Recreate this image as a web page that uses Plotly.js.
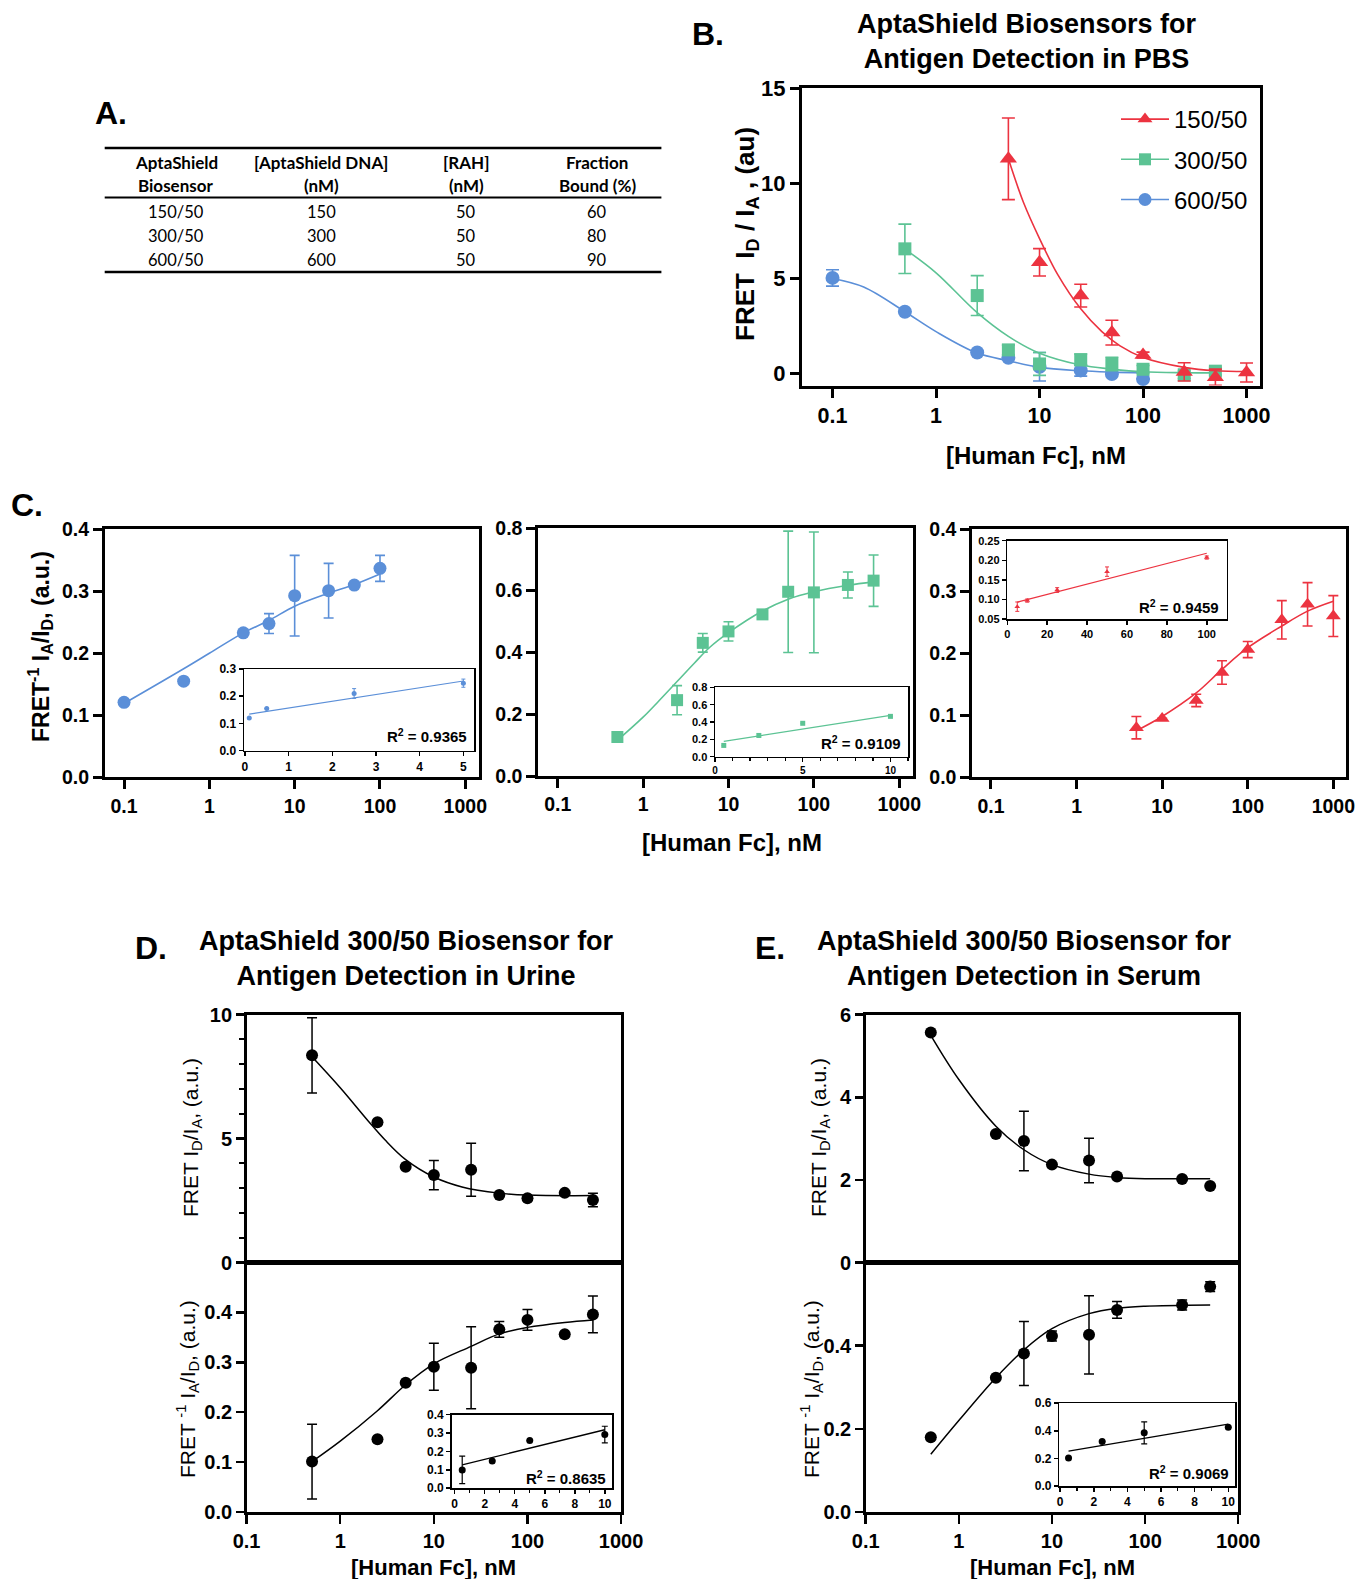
<!DOCTYPE html>
<html><head><meta charset="utf-8">
<script src="https://cdn.plot.ly/plotly-3.0.1.min.js"></script>
<style>html,body{margin:0;padding:0;background:#fff}</style>
</head><body><div id="chart" style="width:1357px;height:1579px"></div>
<script>
// ================= DATA =================
// ---- Panel A table ----
const tableHeadLine1 = ['AptaShield', '[AptaShield DNA]', '[RAH]', 'Fraction'];
const tableHeadLine2 = ['Biosensor', '(nM)', '(nM)', 'Bound (%)'];
const biosensorNames = ['150/50', '300/50', '600/50'];
const aptaShieldDNA = [150, 300, 600];
const rahConc = [50, 50, 50];
const fractionBound = [60, 80, 90];

// ---- Panel B: FRET ID/IA in PBS ----
const seriesNames = ['150/50', '300/50', '600/50'];
const pbsX150 = [5, 10, 25, 50, 100, 250, 500, 1000];
const pbsY150 = [11.3, 5.85, 4.1, 2.15, 0.97, 0.08, -0.2, 0.05];
const pbsErr150 = [2.15, 0.72, 0.6, 0.65, 0.15, 0.48, 0.43, 0.5];
const pbsFitX150 = [5, 7, 10, 15, 25, 40, 60, 100, 250, 500, 1000];
const pbsFitY150 = [11.3, 9.0, 7.1, 5.2, 3.4, 2.2, 1.45, 0.84, 0.32, 0.14, 0.1];

const pbsX300 = [0.5, 2.5, 5, 10, 25, 50, 100, 250, 500];
const pbsY300 = [6.56, 4.1, 1.24, 0.5, 0.72, 0.5, 0.22, -0.07, 0.12];
const pbsErr300 = [1.3, 1.05, 0.25, 0.6, 0.3, 0.35, 0.2, 0.2, 0.2];
const pbsFitX300 = [0.5, 1, 2.5, 5, 10, 25, 50, 100, 250, 500];
const pbsFitY300 = [6.55, 5.3, 3.2, 1.95, 1.06, 0.44, 0.23, 0.09, 0.04, 0.03];

const pbsX600 = [0.1, 0.5, 2.5, 5, 10, 25, 50, 100];
const pbsY600 = [5.03, 3.25, 1.1, 0.82, 0.35, 0.16, -0.03, -0.29];
const pbsErr600 = [0.43, 0, 0, 0, 0.75, 0.3, 0, 0];
const pbsFitX600 = [0.1, 0.2, 0.5, 1, 2.5, 5, 10, 25, 50, 100];
const pbsFitY600 = [5.0, 4.55, 3.25, 2.2, 1.07, 0.67, 0.32, 0.14, 0.07, 0.03];

// ---- Panel C: FRET^-1 IA/ID ----
const c600X = [0.1, 0.5, 2.5, 5, 10, 25, 50, 100];
const c600Y = [0.121, 0.155, 0.233, 0.248, 0.293, 0.301, 0.31, 0.337];
const c600Err = [0, 0, 0, 0.016, 0.065, 0.044, 0, 0.021];
const c600FitX = [0.1, 0.5, 1, 2.5, 5, 10, 25, 50, 100];
const c600FitY = [0.119, 0.175, 0.2, 0.233, 0.253, 0.276, 0.297, 0.311, 0.328];
const c600InsX = [0.1, 0.5, 2.5, 5];
const c600InsY = [0.12, 0.155, 0.21, 0.248];
const c600InsErr = [0, 0, 0.018, 0.015];
const c600InsFitX = [0.1, 5];
const c600InsFitY = [0.134, 0.256];

const c300X = [0.5, 2.5, 5, 10, 25, 50, 100, 250, 500];
const c300Y = [0.126, 0.245, 0.43, 0.467, 0.522, 0.595, 0.593, 0.617, 0.631];
const c300Err = [0.012, 0.047, 0.03, 0.031, 0, 0.196, 0.195, 0.042, 0.083];
const c300FitX = [0.5, 1, 1.5, 2.5, 4, 6, 10, 25, 50, 100, 250, 500];
const c300FitY = [0.115, 0.19, 0.24, 0.305, 0.365, 0.415, 0.463, 0.533, 0.571, 0.595, 0.616, 0.627];
const c300InsX = [0.5, 2.5, 5, 10];
const c300InsY = [0.13, 0.245, 0.385, 0.465];
const c300InsErr = [0, 0.02, 0, 0];
const c300InsFitX = [0.5, 10];
const c300InsFitY = [0.176, 0.476];

const c150X = [5, 10, 25, 50, 100, 250, 500, 1000];
const c150Y = [0.08, 0.095, 0.124, 0.169, 0.206, 0.254, 0.279, 0.26];
const c150Err = [0.018, 0, 0.01, 0.019, 0.013, 0.031, 0.035, 0.033];
const c150FitX = [5, 10, 25, 50, 100, 250, 500, 1000];
const c150FitY = [0.075, 0.098, 0.136, 0.174, 0.209, 0.244, 0.268, 0.284];
const c150InsX = [5, 10, 25, 50, 100];
const c150InsY = [0.0815, 0.097, 0.124, 0.171, 0.207];
const c150InsErr = [0.012, 0.004, 0.006, 0.012, 0.004];
const c150InsFitX = [5, 100];
const c150InsFitY = [0.093, 0.218];

// ---- Panel D: urine ----
const urineX = [0.5, 2.5, 5, 10, 25, 50, 100, 250, 500];
const urineFretY = [8.36, 5.66, 3.86, 3.53, 3.74, 2.72, 2.59, 2.81, 2.52];
const urineFretErr = [1.52, 0, 0, 0.59, 1.07, 0, 0, 0, 0.27];
const urineFretFitX = [0.5, 1, 2, 3, 5, 10, 20, 50, 100, 500];
const urineFretFitY = [8.3, 7.05, 5.7, 4.95, 4.15, 3.45, 3.05, 2.8, 2.72, 2.7];
const urineInvY = [0.101, 0.146, 0.259, 0.291, 0.289, 0.366, 0.385, 0.356, 0.396];
const urineInvErr = [0.075, 0, 0, 0.047, 0.082, 0.016, 0.021, 0, 0.037];
const urineInvFitX = [0.5, 1, 2.5, 5, 10, 25, 50, 100, 250, 500];
const urineInvFitY = [0.101, 0.142, 0.203, 0.255, 0.297, 0.332, 0.357, 0.37, 0.38, 0.385];
const urineInsX = [0.5, 2.5, 5, 10];
const urineInsY = [0.099, 0.148, 0.259, 0.292];
const urineInsErr = [0.075, 0, 0, 0.045];
const urineInsFitX = [0.5, 10];
const urineInsFitY = [0.127, 0.318];

// ---- Panel E: serum ----
const serumX = [0.5, 2.5, 5, 10, 25, 50, 250, 500];
const serumFretY = [5.57, 3.11, 2.94, 2.37, 2.47, 2.08, 2.02, 1.85];
const serumFretErr = [0, 0, 0.72, 0, 0.54, 0, 0, 0];
const serumFretFitX = [0.5, 1, 2.5, 5, 10, 25, 50, 100, 500];
const serumFretFitY = [5.5, 4.43, 3.3, 2.73, 2.37, 2.14, 2.06, 2.03, 2.03];
const serumInvY = [0.18, 0.323, 0.381, 0.423, 0.426, 0.486, 0.498, 0.542];
const serumInvErr = [0, 0, 0.077, 0.012, 0.094, 0.02, 0.012, 0.012];
const serumInvFitX = [0.5, 1, 2.5, 5, 10, 25, 50, 100, 500];
const serumInvFitY = [0.139, 0.22, 0.323, 0.39, 0.441, 0.477, 0.49, 0.495, 0.498];
const serumInsX = [0.5, 2.5, 5, 10];
const serumInsY = [0.202, 0.322, 0.385, 0.426];
const serumInsErr = [0, 0, 0.08, 0];
const serumInsFitX = [0.5, 10];
const serumInsFitY = [0.253, 0.448];

// Tick labels
const logTickVals = [0.1, 1, 10, 100, 1000];
const logTickText = ['0.1', '1', '10', '100', '1000'];
const r2Values = ['0.9365', '0.9109', '0.9459', '0.8635', '0.9069'];

// ================= STYLE / LAYOUT =================
const W = 1357, H = 1579;
const FONT = 'Liberation Sans, Arial, sans-serif';
const TFONT = 'Lato, Open Sans, sans-serif';
const RED = '#EC3340', GREEN = '#5CC394', BLUE = '#5B8FD8', BLACK = '#000';
function xd(l, r) { return [l / W, r / W]; }
function yd(t, b) { return [1 - b / H, 1 - t / H]; }
function px(x) { return x / W; }
function py(y) { return 1 - y / H; }

function ax(o) {
  return Object.assign({
    showline: true, linecolor: BLACK, mirror: true, ticks: 'outside', tickcolor: BLACK,
    showgrid: false, zeroline: false, fixedrange: true, layer: 'above traces'
  }, o);
}
function mainX(dom, range, anchor, lw, fs) {
  return ax({domain: dom, type: 'log', range: range, anchor: anchor, linewidth: lw, tickwidth: lw, ticklen: 9,
    tickmode: 'array', tickvals: logTickVals, ticktext: logTickText,
    tickfont: {family: FONT, size: fs, weight: 700, color: BLACK}});
}
function linY(dom, range, anchor, lw, fs, extra) {
  return ax(Object.assign({domain: dom, range: range, anchor: anchor, linewidth: lw, tickwidth: lw, ticklen: 9,
    tickfont: {family: FONT, size: fs, weight: 700, color: BLACK}}, extra || {}));
}
function insetAx(dom, range, anchor, fs, extra) {
  return ax(Object.assign({domain: dom, range: range, anchor: anchor, linewidth: 1.5, tickwidth: 1.5, ticklen: 4,
    tickfont: {family: FONT, size: fs, weight: 700, color: BLACK}}, extra || {}));
}

function pts(x, y, err, xa, ya, color, symbol, size, capw, thick) {
  return {type: 'scatter', mode: 'markers', x: x, y: y, xaxis: xa, yaxis: ya,
    marker: {color: color, symbol: symbol, size: size, line: {width: 0}},
    error_y: {type: 'data', array: err, visible: true, color: color, thickness: thick, width: capw},
    showlegend: false, cliponaxis: false, hoverinfo: 'x+y'};
}
function fit(x, y, xa, ya, color, w) {
  return {type: 'scatter', mode: 'lines', x: x, y: y, xaxis: xa, yaxis: ya,
    line: {color: color, width: w, shape: 'spline', smoothing: 1}, showlegend: false, hoverinfo: 'skip', cliponaxis: false};
}

const traces = [
  // Panel B
  fit(pbsFitX600, pbsFitY600, 'x', 'y', BLUE, 1.6),
  pts(pbsX600, pbsY600, pbsErr600, 'x', 'y', BLUE, 'circle', 14, 6.5, 1.6),
  fit(pbsFitX300, pbsFitY300, 'x', 'y', GREEN, 1.6),
  pts(pbsX300, pbsY300, pbsErr300, 'x', 'y', GREEN, 'square', 13, 6.5, 1.6),
  fit(pbsFitX150, pbsFitY150, 'x', 'y', RED, 1.6),
  pts(pbsX150, pbsY150, pbsErr150, 'x', 'y', RED, 'triangle-up', 15, 6.5, 1.6),
  // legend entries
  {type: 'scatter', mode: 'lines+markers', x: [null], y: [null], xaxis: 'x', yaxis: 'y', name: seriesNames[0], legendgroup: 'a',
    line: {color: RED, width: 1.6}, marker: {color: RED, symbol: 'triangle-up', size: 13}},
  {type: 'scatter', mode: 'lines+markers', x: [null], y: [null], xaxis: 'x', yaxis: 'y', name: seriesNames[1], legendgroup: 'b',
    line: {color: GREEN, width: 1.6}, marker: {color: GREEN, symbol: 'square', size: 12}},
  {type: 'scatter', mode: 'lines+markers', x: [null], y: [null], xaxis: 'x', yaxis: 'y', name: seriesNames[2], legendgroup: 'c',
    line: {color: BLUE, width: 1.6}, marker: {color: BLUE, symbol: 'circle', size: 13}},
  // Panel C left
  fit(c600FitX, c600FitY, 'x2', 'y2', BLUE, 1.6),
  pts(c600X, c600Y, c600Err, 'x2', 'y2', BLUE, 'circle', 13, 5, 1.6),
  fit(c600InsFitX, c600InsFitY, 'x3', 'y3', BLUE, 1.2),
  pts(c600InsX, c600InsY, c600InsErr, 'x3', 'y3', BLUE, 'circle', 5, 2, 1),
  // Panel C middle
  fit(c300FitX, c300FitY, 'x4', 'y4', GREEN, 1.6),
  pts(c300X, c300Y, c300Err, 'x4', 'y4', GREEN, 'square', 12, 5, 1.6),
  fit(c300InsFitX, c300InsFitY, 'x5', 'y5', GREEN, 1.2),
  pts(c300InsX, c300InsY, c300InsErr, 'x5', 'y5', GREEN, 'square', 5, 2, 1),
  // Panel C right
  fit(c150FitX, c150FitY, 'x6', 'y6', RED, 1.6),
  pts(c150X, c150Y, c150Err, 'x6', 'y6', RED, 'triangle-up', 13, 5, 1.6),
  fit(c150InsFitX, c150InsFitY, 'x7', 'y7', RED, 1.2),
  pts(c150InsX, c150InsY, c150InsErr, 'x7', 'y7', RED, 'triangle-up', 5, 2, 1),
  // Panel D
  fit(urineFretFitX, urineFretFitY, 'x8', 'y8', BLACK, 1.5),
  pts(urineX, urineFretY, urineFretErr, 'x8', 'y8', BLACK, 'circle', 12, 5, 1.5),
  fit(urineInvFitX, urineInvFitY, 'x9', 'y9', BLACK, 1.5),
  pts(urineX, urineInvY, urineInvErr, 'x9', 'y9', BLACK, 'circle', 12, 5, 1.5),
  fit(urineInsFitX, urineInsFitY, 'x10', 'y10', BLACK, 1.3),
  pts(urineInsX, urineInsY, urineInsErr, 'x10', 'y10', BLACK, 'circle', 7, 3, 1.2),
  // Panel E
  fit(serumFretFitX, serumFretFitY, 'x11', 'y11', BLACK, 1.5),
  pts(serumX, serumFretY, serumFretErr, 'x11', 'y11', BLACK, 'circle', 12, 5, 1.5),
  fit(serumInvFitX, serumInvFitY, 'x12', 'y12', BLACK, 1.5),
  pts(serumX, serumInvY, serumInvErr, 'x12', 'y12', BLACK, 'circle', 12, 5, 1.5),
  fit(serumInsFitX, serumInsFitY, 'x13', 'y13', BLACK, 1.3),
  pts(serumInsX, serumInsY, serumInsErr, 'x13', 'y13', BLACK, 'circle', 7, 3, 1.2)
];

const minorX = {tickmode: 'linear', tick0: 0, dtick: 1, ticks: 'outside', ticklen: 3, tickwidth: 1.2, tickcolor: BLACK, showgrid: false};
const layout = {
  width: W, height: H, margin: {l: 0, r: 0, t: 0, b: 0},
  paper_bgcolor: '#fff', plot_bgcolor: 'rgba(0,0,0,0)',
  font: {family: FONT, color: BLACK},
  showlegend: true,
  legend: {x: px(1116), y: py(97), xanchor: 'left', yanchor: 'top', bgcolor: 'rgba(0,0,0,0)',
    font: {family: FONT, size: 24, color: BLACK}, traceorder: 'grouped', tracegroupgap: 6, itemwidth: 48},
  // B
  xaxis: mainX(xd(802, 1260), [-1.295, 3.13], 'y', 3, 21.5),
  yaxis: linY(yd(87.6, 385.6), [-0.64, 15.05], 'x', 3, 22, {tickvals: [0, 5, 10, 15]}),
  // C left
  xaxis2: mainX(xd(105, 479.3), [-1.223, 3.164], 'y2', 3, 19.5),
  yaxis2: linY(yd(529.3, 777.3), [0, 0.4], 'x2', 3, 19.5, {dtick: 0.1, tickformat: '.1f'}),
  xaxis3: insetAx(xd(244, 474.3), [-0.02, 5.25], 'y3', 12, {dtick: 1}),
  yaxis3: insetAx(yd(669, 750.7), [0, 0.3], 'x3', 12, {dtick: 0.1, tickformat: '.1f'}),
  // C middle
  xaxis4: mainX(xd(538.3, 912.7), [-1.227, 3.157], 'y4', 3, 19.5),
  yaxis4: linY(yd(528.3, 776), [0, 0.8], 'x4', 3, 19.5, {dtick: 0.2, tickformat: '.1f'}),
  xaxis5: insetAx(xd(715, 908), [0, 11], 'y5', 10, {tickvals: [0, 5, 10], minor: minorX}),
  yaxis5: insetAx(yd(687.3, 756.7), [0, 0.8], 'x5', 11, {dtick: 0.2, tickformat: '.1f'}),
  // C right
  xaxis6: mainX(xd(972.3, 1346), [-1.218, 3.148], 'y6', 3, 19.5),
  yaxis6: linY(yd(529.3, 777.3), [0, 0.4], 'x6', 3, 19.5, {dtick: 0.1, tickformat: '.1f'}),
  xaxis7: insetAx(xd(1007.3, 1226.7), [0, 110], 'y7', 11, {dtick: 20}),
  yaxis7: insetAx(yd(540.7, 619), [0.05, 0.25], 'x7', 11, {tick0: 0.05, dtick: 0.05, tickformat: '.2f'}),
  // D upper / lower / inset
  xaxis8: ax({domain: xd(246.6, 621.1), type: 'log', range: [-1, 3], anchor: 'y8', linewidth: 2.5, ticks: '', showticklabels: false}),
  yaxis8: linY(yd(1014.7, 1262.5), [0, 10], 'x8', 2.5, 20, {tick0: 0, dtick: 5, ticklen: 8,
    minor: {tickmode: 'linear', tick0: 0, dtick: 1, ticks: 'outside', ticklen: 5, tickwidth: 2, tickcolor: BLACK, showgrid: false}}),
  xaxis9: mainX(xd(246.6, 621.1), [-1, 3], 'y9', 2.5, 20),
  yaxis9: linY(yd(1262.5, 1512), [0, 0.5], 'x9', 2.5, 20, {tickvals: [0, 0.1, 0.2, 0.3, 0.4], tickformat: '.1f', ticklen: 8}),
  xaxis10: insetAx(xd(451.7, 612.3), [-0.2, 10.5], 'y10', 12, {tick0: 0, dtick: 2, minor: minorX}),
  yaxis10: insetAx(yd(1414.7, 1488.1), [0, 0.4], 'x10', 12, {dtick: 0.1, tickformat: '.1f'}),
  // E upper / lower / inset
  xaxis11: ax({domain: xd(865.7, 1238.2), type: 'log', range: [-1, 3], anchor: 'y11', linewidth: 2.5, ticks: '', showticklabels: false}),
  yaxis11: linY(yd(1014.7, 1262.5), [0, 6], 'x11', 2.5, 20, {tick0: 0, dtick: 2, ticklen: 8}),
  xaxis12: mainX(xd(865.7, 1238.2), [-1, 3], 'y12', 2.5, 20),
  yaxis12: linY(yd(1262.5, 1512), [0, 0.6], 'x12', 2.5, 20, {tickvals: [0, 0.2, 0.4], tickformat: '.1f', ticklen: 8}),
  xaxis13: insetAx(xd(1059.3, 1235), [-0.05, 10.4], 'y13', 12, {tick0: 0, dtick: 2, minor: minorX}),
  yaxis13: insetAx(yd(1403.2, 1486), [0, 0.6], 'x13', 12, {dtick: 0.2, tickformat: '.1f'}),
  shapes: [],
  annotations: []
};

function ann(text, x, y, size, opts) {
  return Object.assign({text: text, x: px(x), y: py(y), xref: 'paper', yref: 'paper', showarrow: false,
    xanchor: 'center', yanchor: 'middle', font: {family: FONT, size: size, color: BLACK, weight: 700}}, opts || {});
}
const A = layout.annotations;
const regF = {family: FONT, size: 21, color: BLACK, weight: 400};
// Panel letters
A.push(ann('A.', 111, 113, 32));
A.push(ann('B.', 708, 34, 32));
A.push(ann('C.', 27, 505, 32));
A.push(ann('D.', 151, 948, 32));
A.push(ann('E.', 770, 948, 32));
// Titles
A.push(ann('AptaShield Biosensors for<br>Antigen Detection in PBS', 1027, 41, 27));
A.push(ann('AptaShield 300/50 Biosensor for<br>Antigen Detection in Urine', 406, 958, 27));
A.push(ann('AptaShield 300/50 Biosensor for<br>Antigen Detection in Serum', 1024, 958, 27));
// Axis titles
A.push(ann('FRET  I<sub>D</sub> / I<sub>A</sub> , (au)', 746, 234, 26, {textangle: -90}));
A.push(ann('[Human Fc], nM', 1036, 455, 24));
A.push(ann('FRET<sup>-1</sup> I<sub>A</sub>/I<sub>D</sub>, (a.u.)', 40, 647, 23, {textangle: -90}));
A.push(ann('[Human Fc], nM', 732, 842, 24));
A.push(ann('FRET I<sub>D</sub>/I<sub>A</sub>, (a.u.)', 192, 1138, 21, {textangle: -90, font: regF}));
A.push(ann('FRET <sup>-1</sup> I<sub>A</sub>/I<sub>D</sub>, (a.u.)', 187, 1389, 21, {textangle: -90, font: regF}));
A.push(ann('FRET I<sub>D</sub>/I<sub>A</sub>, (a.u.)', 820, 1138, 21, {textangle: -90, font: regF}));
A.push(ann('FRET <sup>-1</sup> I<sub>A</sub>/I<sub>D</sub>, (a.u.)', 811, 1389, 21, {textangle: -90, font: regF}));
A.push(ann('[Human Fc], nM', 434, 1567, 22));
A.push(ann('[Human Fc], nM', 1052, 1567, 22));
// R² labels inside insets
const r2Pos = [['x3', 'y3', 0.18], ['x5', 'y5', 0.21], ['x7', 'y7', 0.16], ['x10', 'y10', 0.15], ['x13', 'y13', 0.16]];
r2Pos.forEach(function (p, i) {
  A.push({text: 'R<sup>2</sup> = ' + r2Values[i], xref: p[0] + ' domain', yref: p[1] + ' domain', x: 0.975, y: p[2],
    xanchor: 'right', yanchor: 'middle', showarrow: false, font: {family: FONT, size: 15, color: BLACK, weight: 700}});
});

// Panel A table
const colCenters = [176, 321, 466, 597];
const rowYs = [212, 235.5, 259.5];
const S = layout.shapes;
[[148, 2.6], [197.5, 2], [272, 2.6]].forEach(function (l) {
  S.push({type: 'line', xref: 'paper', yref: 'paper', x0: px(104.7), x1: px(661.4), y0: py(l[0]), y1: py(l[0]), line: {color: BLACK, width: l[1]}});
});
const tfB = {family: TFONT, size: 17, color: BLACK, weight: 700};
const tfR = {family: TFONT, size: 16.5, color: BLACK, weight: 400};
tableHeadLine1.forEach(function (t, c) { A.push(ann(t, colCenters[c], 162, 17, {font: tfB})); });
tableHeadLine2.forEach(function (t, c) { A.push(ann(t, colCenters[c], 185, 17, {font: tfB})); });
biosensorNames.forEach(function (name, r) {
  const row = [name, String(aptaShieldDNA[r]), String(rahConc[r]), String(fractionBound[r])];
  row.forEach(function (t, c) { A.push(ann(t, colCenters[c], rowYs[r], 16.5, {font: tfR})); });
});

Plotly.newPlot('chart', traces, layout, {displayModeBar: false, staticPlot: true});
</script>
</body></html>
